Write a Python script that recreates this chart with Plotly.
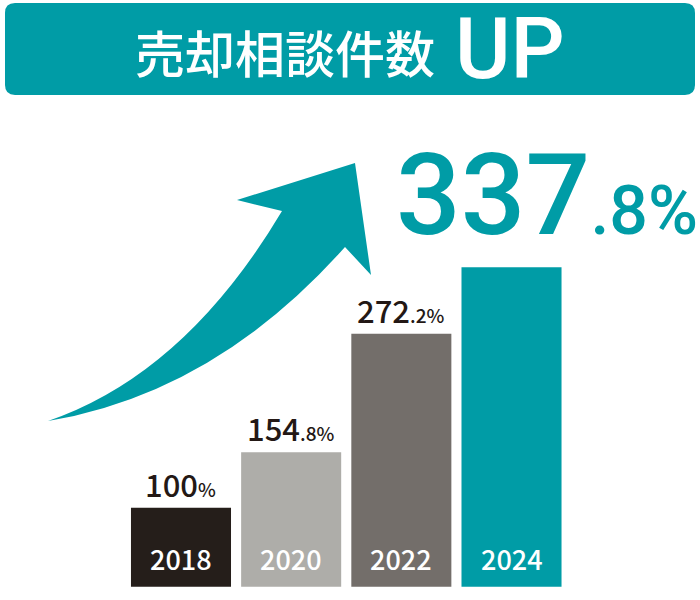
import plotly.graph_objects as go

# ---- data ----
years = ["2018", "2020", "2022", "2024"]
values = [100.0, 154.8, 272.2, 337.8]
bar_colors = ["#251e1a", "#aeada9", "#736e6a", "#009ca6"]
title_text = "売却相談件数"
title_up = "UP"

TEAL = "#009ca6"
DARK = "#231815"
W, H = 700, 600
Y_MIN, Y_MAX = 21.9, 602.2


def pp(x, y):
    """pixel -> paper coordinates string"""
    return f"{x / W:.5f},{1 - y / H:.5f}"


def split_label(v):
    s = f"{v:.1f}"
    ip, fp = s.split(".")
    frac = "" if fp == "0" else "." + fp
    return ip, frac + "%"


fig = go.Figure(
    go.Bar(
        x=years,
        y=values,
        marker=dict(color=bar_colors, line=dict(width=0)),
        width=0.908,
        hoverinfo="skip",
    )
)

annotations = []
for i, (yr, v) in enumerate(zip(years, values)):
    ip, rest = split_label(v)
    if i < len(years) - 1:
        annotations.append(dict(
            x=i, y=v, xref="x", yref="y", yanchor="bottom", xanchor="center",
            yshift=0, showarrow=False,
            text=f"{ip}<span style='font-size:19px'>{rest}</span>",
            font=dict(family="Noto Sans CJK JP", size=31, color=DARK, weight=500),
        ))
    else:
        annotations.append(dict(
            x=i, y=v, xref="x", yref="y", yanchor="bottom", xanchor="center",
            xshift=35, yshift=3, showarrow=False,
            text=f"{ip}<span style='font-size:68px'>{rest}</span>",
            font=dict(family="Roboto", size=114, color=TEAL, weight=500),
        ))
    annotations.append(dict(
        x=i, y=Y_MIN, xref="x", yref="y", yanchor="bottom", xanchor="center",
        yshift=7, showarrow=False, text=yr,
        font=dict(family="Noto Sans CJK JP", size=27, color="white", weight=500),
    ))

annotations.append(dict(
    x=285 / W, y=1 - 51 / H, xref="paper", yref="paper", xanchor="center", yanchor="middle",
    showarrow=False, text=title_text,
    font=dict(family="Noto Sans CJK JP", size=50, color="white", weight=500),
))
annotations.append(dict(
    x=510 / W, y=1 - 49 / H, xref="paper", yref="paper", xanchor="center", yanchor="middle",
    showarrow=False, text=title_up,
    font=dict(family="Roboto", size=85, color="white", weight=500),
))

# header rounded rectangle
x0, y0, x1, y1, r = 5, 3, 695, 95, 10
header_path = (
    f"M {pp(x0 + r, y0)} L {pp(x1 - r, y0)} Q {pp(x1, y0)} {pp(x1, y0 + r)} "
    f"L {pp(x1, y1 - r)} Q {pp(x1, y1)} {pp(x1 - r, y1)} "
    f"L {pp(x0 + r, y1)} Q {pp(x0, y1)} {pp(x0, y1 - r)} "
    f"L {pp(x0, y0 + r)} Q {pp(x0, y0)} {pp(x0 + r, y0)} Z"
)

# decorative arrow
arrow_path = (
    f"M {pp(48, 421)} Q {pp(185, 374)} {pp(282, 211)} "
    f"L {pp(237, 200)} L {pp(355, 163)} L {pp(371, 275)} L {pp(345, 247)} "
    f"Q {pp(215.5, 392.6)} {pp(48, 421)} Z"
)

shapes = [
    dict(type="path", xref="paper", yref="paper", path=header_path,
         fillcolor=TEAL, line=dict(width=0), layer="below"),
    dict(type="path", xref="paper", yref="paper", path=arrow_path,
         fillcolor=TEAL, line=dict(width=0), layer="above"),
]

hidden = dict(showticklabels=False, showgrid=False, zeroline=False, showline=False, ticks="")

fig.update_layout(
    width=W, height=H,
    margin=dict(l=0, r=0, t=0, b=0),
    paper_bgcolor="white", plot_bgcolor="white",
    showlegend=False,
    xaxis=dict(domain=[125.9 / W, 566.6 / W], range=[-0.5, 3.5], type="category", fixedrange=True, **hidden),
    yaxis=dict(domain=[13.3 / H, 1], range=[Y_MIN, Y_MAX], fixedrange=True, **hidden),
    annotations=annotations,
    shapes=shapes,
)

fig.write_html(
    "out.html",
    config={"displayModeBar": False},
    post_script="document.body.style.margin='0';document.body.style.overflow='hidden';",
)
